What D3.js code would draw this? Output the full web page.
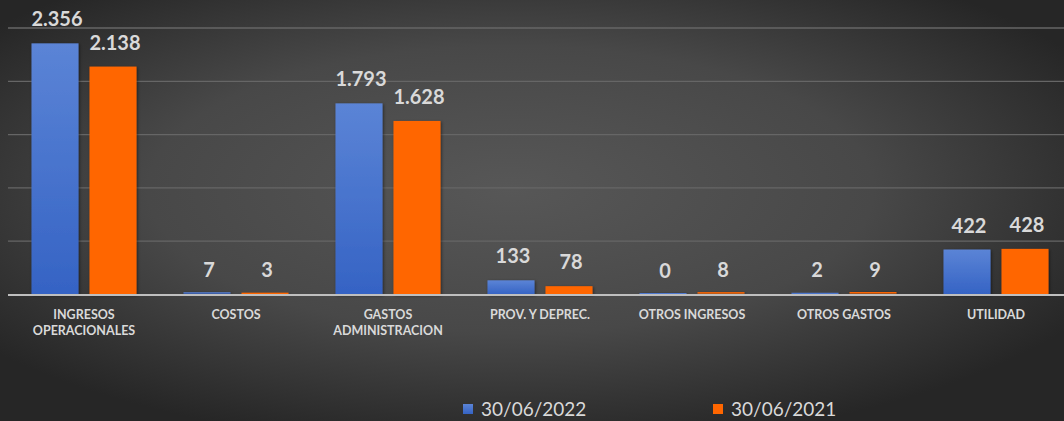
<!DOCTYPE html>
<html><head><meta charset="utf-8">
<script src="https://cdn.jsdelivr.net/npm/d3@7"></script>
<style>html,body{margin:0;padding:0;background:#333;}svg{display:block;}</style>
</head><body>
<svg id="c" width="1064" height="421"></svg>
<script>
const categories = [["INGRESOS","OPERACIONALES"],["COSTOS"],["GASTOS","ADMINISTRACION"],["PROV. Y DEPREC."],["OTROS INGRESOS"],["OTROS GASTOS"],["UTILIDAD"]];
const series = ["30/06/2022","30/06/2021"];
const values2022 = [2356,7,1793,133,0,2,422];
const values2021 = [2138,3,1628,78,8,9,428];
const yTicks = [0,500,1000,1500,2000,2500];
const colors = ["#4472c4","#ff6600"];

const svg = d3.select("#c");
const W = 1064, H = 421;
const defs = svg.append("defs");
const bg = defs.append("radialGradient").attr("id","bg").attr("cx","48%").attr("cy","45%").attr("r","62%");
bg.append("stop").attr("offset","0%").attr("stop-color","#575757");
bg.append("stop").attr("offset","55%").attr("stop-color","#484848");
bg.append("stop").attr("offset","100%").attr("stop-color","#262626");
const bl = defs.append("linearGradient").attr("id","blue").attr("x1",0).attr("y1",0).attr("x2",0).attr("y2",1);
bl.append("stop").attr("offset","0%").attr("stop-color","#5b84d6");
bl.append("stop").attr("offset","100%").attr("stop-color","#3563c4");
const sh = defs.append("filter").attr("id","sh").attr("x","-20%").attr("y","-20%").attr("width","140%").attr("height","140%");
sh.append("feDropShadow").attr("dx",1).attr("dy",1).attr("stdDeviation",1.5).attr("flood-color","#000").attr("flood-opacity",0.5);

svg.append("rect").attr("width",W).attr("height",H).attr("fill","url(#bg)");

const y = d3.scaleLinear().domain([0,2500]).range([294.5,28]);
const x0 = d3.scaleBand().domain(d3.range(categories.length)).range([8,1072]).paddingInner(47/152).paddingOuter(47/304);
const x1 = d3.scaleBand().domain([0,1]).range([0,x0.bandwidth()]).paddingInner(11/58).paddingOuter(0);

svg.append("g").selectAll("line").data(yTicks.slice(1)).join("line")
  .attr("x1",8).attr("x2",W).attr("y1",d=>y(d)).attr("y2",d=>y(d))
  .attr("stroke","#666").attr("stroke-width",1.3);

const data = categories.map((c,i)=>({i, vals:[values2022[i],values2021[i]]}));
const g = svg.append("g").selectAll("g").data(data).join("g").attr("transform",d=>`translate(${x0(d.i)},0)`);
g.selectAll("rect").data(d=>d.vals.map((v,k)=>({v,k}))).join("rect")
  .attr("x",d=>x1(d.k)).attr("width",x1.bandwidth())
  .attr("y",d=>y(d.v)-(d.v<20?1.5:0)).attr("height",d=>Math.max(1.5,y(0)-y(d.v)))
  .attr("fill",d=>d.k===0?"url(#blue)":colors[1]).attr("filter","url(#sh)");
g.selectAll("text").data(d=>d.vals.map((v,k)=>({v,k}))).join("text")
  .attr("x",d=>x1(d.k)+x1.bandwidth()/2+2).attr("y",d=>y(d.v)-17)
  .attr("text-anchor","middle").attr("font-family","Lato").attr("font-weight","bold").attr("font-size",20)
  .attr("fill","#d9d9d9")
  .text(d=>d3.format(",")(d.v).replace(/,/g,"."));

svg.append("line").attr("x1",8).attr("x2",W).attr("y1",y(0)+0.5).attr("y2",y(0)+0.5).attr("stroke","#bfbfbf").attr("stroke-width",2);

const cl = svg.append("g").selectAll("text").data(categories).join("text")
  .attr("x",(d,i)=>x0(i)+x0.bandwidth()/2).attr("y",319)
  .attr("text-anchor","middle").attr("font-family","Lato").attr("font-weight","bold").attr("font-size",12.5)
  .attr("fill","#d9d9d9");
cl.selectAll("tspan").data(d=>d).join("tspan").attr("x",function(){return this.parentNode.getAttribute("x");})
  .attr("dy",(d,i)=>i?16:0).text(d=>d);

const lx = [463,713];
const lg = svg.append("g").selectAll("g").data(series).join("g").attr("transform",(d,i)=>`translate(${lx[i]},0)`);
lg.append("rect").attr("x",0).attr("y",404).attr("width",10).attr("height",10).attr("fill",(d,i)=>i?colors[1]:"url(#blue)");
lg.append("text").attr("x",18).attr("y",416).attr("font-family","Lato").attr("font-size",19).attr("fill","#d9d9d9").text(d=>d);
</script>
</body></html>
